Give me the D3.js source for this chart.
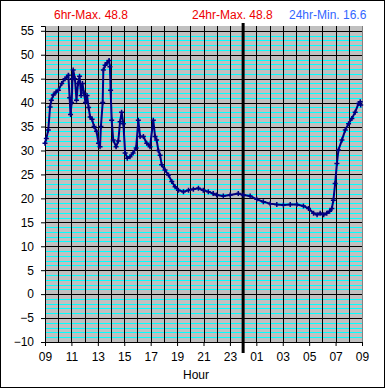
<!DOCTYPE html>
<html>
<head>
<meta charset="utf-8">
<script src="https://cdn.jsdelivr.net/npm/d3@7"></script>
<style>
  body { margin: 0; background: #fff; }
  svg { display: block; font-family: "Liberation Sans", Arial, sans-serif; }
</style>
</head>
<body>
<div id="chart"></div>
<script>
// minutes after 09:00 and temperature readings
const minutes = [0, 6, 15, 23, 29, 38, 50, 61, 76, 91, 106, 112, 116, 121, 125, 128,
  136, 143, 150, 157, 164, 170, 177, 184, 191, 198, 205, 214, 223, 234, 243, 250,
  254, 262, 265, 273, 282, 291, 295, 298, 303, 310, 323, 333, 341, 348, 356,
  364, 374, 386, 400, 414, 424, 432, 447, 462, 477, 492, 500, 507, 515, 523, 530,
  545, 561, 576, 591, 606, 629, 652, 674, 697, 719, 742, 764, 780, 810, 841, 878,
  901, 932, 962, 992, 1023, 1053, 1083, 1114, 1144, 1174, 1197, 1220, 1236, 1250,
  1266, 1280, 1293, 1303, 1310, 1318, 1326, 1333, 1349, 1364, 1379, 1394, 1409,
  1424, 1432, 1434];
const temps = [31.5, 32.5, 34.3, 39.1, 40.5, 41.6, 42.2, 42.6, 44.0, 45.0, 45.7, 41.0,
  37.5, 40.0, 45.0, 46.8, 45.0, 40.5, 44.0, 45.5, 41.5, 44.0, 42.0, 40.0, 41.5, 39.0,
  37.0, 36.5, 35.0, 34.0, 31.5, 30.8, 35.0, 40.0, 46.8, 47.8, 48.3, 48.8, 47.5, 42.6,
  36.3, 32.2, 30.8, 32.0, 36.0, 38.0, 35.6, 29.5, 28.4, 28.7, 29.5, 30.5, 36.3, 32.9,
  32.9, 31.5, 30.8, 36.3, 32.9, 32.2, 30.0, 29.0, 27.0, 25.9, 24.9, 23.5, 22.4, 21.7,
  21.4, 21.7, 21.9, 22.1, 21.7, 21.4, 21.0, 20.7, 20.5, 20.7, 21.0, 20.7, 20.5, 19.8,
  19.3, 18.9, 18.7, 18.6, 18.7, 18.7, 18.4, 17.9, 16.9, 16.6, 16.9, 16.6, 16.9, 17.3,
  17.9, 19.6, 23.1, 27.3, 30.1, 32.2, 34.3, 35.6, 36.7, 38.0, 39.8, 40.2, 39.5];
const yTicks = [-10, -5, 0, 5, 10, 15, 20, 25, 30, 35, 40, 45, 50, 55];
const xTickLabels = ["09", "11", "13", "15", "17", "19", "21", "23", "01", "03", "05", "07", "09"];
const headerText = ["6hr-Max. 48.8", "24hr-Max. 48.8", "24hr-Min. 16.6"];

const W = 385, H = 388;
const margin = { left: 45, right: 362, top: 26, bottom: 342 };

const svg = d3.select("#chart").append("svg")
  .attr("width", W).attr("height", H);

// outer frame
svg.append("rect").attr("x", 0.5).attr("y", 0.5)
  .attr("width", W - 1).attr("height", H - 1)
  .attr("fill", "#fff").attr("stroke", "#000");

const x = d3.scaleLinear().domain([0, 24 * 60]).range([margin.left, margin.right]);
const y = d3.scaleLinear().domain([-10, 56]).range([margin.bottom, margin.top]);

// PLOT BACKGROUND
svg.append("rect")
  .attr("x", margin.left).attr("y", margin.top)
  .attr("width", margin.right - margin.left).attr("height", margin.bottom - margin.top)
  .attr("fill", "#c0c0c0");

// minor grid (cyan)
const g = svg.append("g").attr("shape-rendering", "crispEdges");
g.selectAll(".minor").data(d3.range(-9, 56).filter(v => v % 5 != 0))
  .enter().append("line")
  .attr("x1", margin.left).attr("x2", margin.right)
  .attr("y1", d => Math.round(y(d)) + 0.5).attr("y2", d => Math.round(y(d)) + 0.5)
  .attr("stroke", "#00ffff");

// hour grid (black)
g.selectAll(".vgrid").data(d3.range(1, 24))
  .enter().append("line")
  .attr("x1", d => Math.round(x(d * 60)) + 0.5).attr("x2", d => Math.round(x(d * 60)) + 0.5)
  .attr("y1", margin.top).attr("y2", margin.bottom)
  .attr("stroke", "#000").attr("stroke-width", 1.5);

// major grid (black)
g.selectAll(".hgrid").data(yTicks.slice(1))
  .enter().append("line")
  .attr("x1", margin.left).attr("x2", margin.right)
  .attr("y1", d => Math.round(y(d)) + 0.5).attr("y2", d => Math.round(y(d)) + 0.5)
  .attr("stroke", "#000").attr("stroke-width", 1.5);

// right edge
g.append("line").attr("x1", margin.right + 0.5).attr("x2", margin.right + 0.5)
  .attr("y1", margin.top).attr("y2", margin.bottom).attr("stroke", "#808080");

// AXES
const yAxis = svg.append("g")
  .attr("transform", "translate(" + margin.left + ",0)")
  .call(d3.axisLeft(y).tickValues(yTicks).tickSize(4).tickPadding(7).tickFormat(d3.format("d")));
yAxis.select(".domain").attr("stroke", "#000");
yAxis.selectAll("text").attr("font-size", "12px").attr("fill", "#000")
  .attr("font-family", "Liberation Sans, Arial, sans-serif");

const xAxis = svg.append("g")
  .attr("transform", "translate(0," + margin.bottom + ")")
  .call(d3.axisBottom(x).tickValues(d3.range(0, 25, 2).map(h => h * 60)).tickSize(4).tickPadding(6)
    .tickFormat((d, i) => xTickLabels[i]));
xAxis.select(".domain").attr("stroke", "#000");
xAxis.selectAll("text").attr("font-size", "12px").attr("fill", "#000")
  .attr("font-family", "Liberation Sans, Arial, sans-serif");

// midnight marker
svg.append("line")
  .attr("x1", x(15 * 60)).attr("x2", x(15 * 60))
  .attr("y1", 23).attr("y2", 353)
  .attr("stroke", "#000").attr("stroke-width", 3);

svg.append("text").attr("x", 183).attr("y", 379)
  .attr("font-size", "12px").text("Hour");

// HEADER
const headerX = [54, 192, 289];
const headerColor = ["#ee0000", "#ee0000", "#3366ff"];
svg.selectAll(".hdr").data(headerText)
  .enter().append("text")
  .attr("x", (d, i) => headerX[i]).attr("y", 19)
  .attr("font-size", "12px")
  .attr("fill", (d, i) => headerColor[i])
  .text(d => d);

// DATA
const data = minutes.map((m, i) => ({ m: m, t: temps[i] }));
const line = d3.line().x(d => x(d.m)).y(d => y(d.t));

svg.append("path").datum(data)
  .attr("d", line)
  .attr("fill", "none").attr("stroke", "#000080").attr("stroke-width", 2);

svg.selectAll(".pt").data(data)
  .enter().append("path")
  .attr("d", d => {
    const px = x(d.m), py = y(d.t);
    return "M" + (px - 2.5) + "," + py + "H" + (px + 2.5) + "M" + px + "," + (py - 2.5) + "V" + (py + 2.5);
  })
  .attr("stroke", "#000080").attr("stroke-width", 1.5);
</script>
</body>
</html>
